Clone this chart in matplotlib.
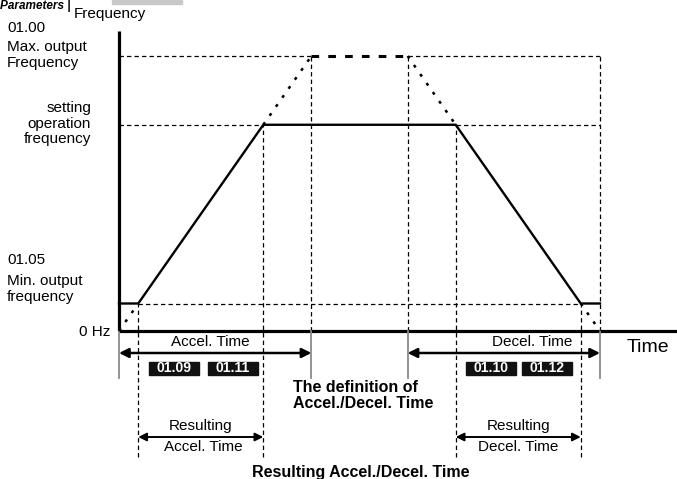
import matplotlib
matplotlib.use('Agg')
import matplotlib.pyplot as plt
from matplotlib.patches import Rectangle

plt.rcParams['font.family'] = ['Liberation Sans', 'DejaVu Sans']

# ---------------- data (time in s, frequency in Hz) ----------------
f_max, f_set, f_min = 60, 45, 6
t_start, t_min_acc, t_set_acc, t_max_acc = 0, 1, 7.5, 10
t_max_dec, t_set_dec, t_min_dec, t_end = 15, 17.5, 24, 25

# resulting (actual) run curve
run_t = [0, 1, 7.5, 17.5, 24, 25]
run_f = [6, 6, 45, 45, 6, 6]
# dotted definition ramps (to/from 0 Hz and max frequency)
acc_low_t, acc_low_f = [0, 1], [0, 6]
acc_high_t, acc_high_f = [7.5, 10], [45, 60]
dec_high_t, dec_high_f = [15, 17.5], [60, 45]
dec_low_t, dec_low_f = [24, 25], [6, 0]

param_acc = ['01.09', '01.11']
param_dec = ['01.10', '01.12']

# ---------------- figure ----------------
W, H = 677, 479
fig = plt.figure(figsize=(W / 100, H / 100), dpi=100)
ax = fig.add_axes([0, 0, 1, 1])
ax.axis('off')

X0, Y0 = 119, 331          # pixel location of origin
SX, SY = 19.24, 4.583      # pixels per second / per Hz
ax.set_xlim((0 - X0) / SX, (W - X0) / SX)
ax.set_ylim((Y0 - H) / SY, (Y0 - 0) / SY)


def fy(py):
    return (Y0 - py) / SY


def tx(px):
    return (px - X0) / SX


def P(x, y):
    return (x / W, 1 - y / H)


FT = fig.transFigure
dash = dict(color='black', lw=0.9, linestyle=(0, (3.5, 2.5)))
grey = dict(color='#8a8a8a', lw=1.3)

# axes
ax.plot([0, 0], [0, fy(31)], color='black', lw=2.3, solid_capstyle='butt')
ax.plot([0, tx(W)], [0, 0], color='black', lw=2.3, solid_capstyle='butt')

# guide lines (horizontal)
ax.plot([t_start, t_max_acc], [f_max, f_max], **dash)
ax.plot([t_max_acc, t_max_dec], [f_max, f_max], color='black', lw=2.2,
        linestyle=(0, (2.5, 3)))
ax.plot([t_max_dec, t_end], [f_max, f_max], **dash)
ax.plot([t_start, t_set_acc], [f_set, f_set], **dash)
ax.plot([t_set_dec, t_end], [f_set, f_set], **dash)
ax.plot([t_min_acc, t_min_dec], [f_min, f_min], **dash)

# guide lines (vertical)
for t in [t_max_acc, t_max_dec, t_end]:
    ax.plot([t, t], [0, f_max], **dash)
for t in [t_start, t_max_acc, t_max_dec, t_end]:
    ax.plot([t, t], [0, fy(378)], **grey)
for t in [t_min_acc, t_min_dec]:
    ax.plot([t, t], [fy(457), f_min], **dash)
for t in [t_set_acc, t_set_dec]:
    ax.plot([t, t], [fy(457), f_set], **dash)

# dotted definition ramps
dot = dict(color='black', lw=1.8, linestyle=(0, (1.2, 3.2)))
for xs, ys in [(acc_low_t, acc_low_f), (acc_high_t, acc_high_f),
               (dec_high_t, dec_high_f), (dec_low_t, dec_low_f)]:
    ax.plot(xs, ys, **dot)

# run curve
ax.plot(run_t, run_f, color='black', lw=1.7, solid_joinstyle='miter')

# arrows
def darrow(x1, x2, y, lw, ms):
    ax.annotate('', xy=(x2, y), xytext=(x1, y),
                arrowprops=dict(arrowstyle='<|-|>', color='black', lw=lw,
                                mutation_scale=ms, shrinkA=0, shrinkB=0))

darrow(t_start, t_max_acc, fy(353), 1.8, 14)
darrow(t_max_dec, t_end, fy(353), 1.8, 14)
darrow(t_min_acc, t_set_acc, fy(437), 1.4, 12)
darrow(t_set_dec, t_min_dec, fy(437), 1.4, 12)

# parameter boxes
for cx, lab in zip([174, 232.5], param_acc):
    fig.patches.append(Rectangle(P(cx - 25, 375), 50 / W, 13 / H,
                                 transform=FT, color='#111111'))
    fig.text(*P(cx, 368.5), lab, transform=FT, color='white', fontsize=10,
             fontweight='bold', ha='center', va='center')
for cx, lab in zip([491, 546.5], param_dec):
    fig.patches.append(Rectangle(P(cx - 25, 375), 50 / W, 13 / H,
                                 transform=FT, color='#111111'))
    fig.text(*P(cx, 368.5), lab, transform=FT, color='white', fontsize=10,
             fontweight='bold', ha='center', va='center')

# header
fig.text(*P(0, 9), 'Parameters |', transform=FT, fontsize=8.5,
         fontweight='bold', style='italic', ha='left', va='baseline')
fig.patches.append(Rectangle(P(112, 4), 70 / W, 4 / H, transform=FT,
                             color='#c8c8c8'))
fig.text(*P(110, 14), 'Frequency', transform=FT, fontsize=11,
         ha='center', va='center')

fs = 11
bfs = 11.5
# left labels
fig.text(*P(7, 28), '01.00', transform=FT, fontsize=fs, ha='left', va='center')
fig.text(*P(7, 47), 'Max. output', transform=FT, fontsize=fs, ha='left', va='center')
fig.text(*P(7, 63), 'Frequency', transform=FT, fontsize=fs, ha='left', va='center')
fig.text(*P(91, 108), 'setting', transform=FT, fontsize=fs, ha='right', va='center')
fig.text(*P(91, 124), 'operation', transform=FT, fontsize=fs, ha='right', va='center')
fig.text(*P(91, 139), 'frequency', transform=FT, fontsize=fs, ha='right', va='center')
fig.text(*P(7, 260), '01.05', transform=FT, fontsize=fs, ha='left', va='center')
fig.text(*P(7, 281), 'Min. output', transform=FT, fontsize=fs, ha='left', va='center')
fig.text(*P(7, 297), 'frequency', transform=FT, fontsize=fs, ha='left', va='center')
fig.text(*P(110, 332), '0 Hz', transform=FT, fontsize=fs, ha='right', va='center')

fig.text(*P(210, 342), 'Accel. Time', transform=FT, fontsize=fs, ha='center', va='center')
fig.text(*P(532, 342), 'Decel. Time', transform=FT, fontsize=fs, ha='center', va='center')
fig.text(*P(627, 347), 'Time', transform=FT, fontsize=14, ha='left', va='center')

fig.text(*P(293, 388), 'The definition of', transform=FT, fontsize=bfs,
         fontweight='bold', ha='left', va='center')
fig.text(*P(293, 404), 'Accel./Decel. Time', transform=FT, fontsize=bfs,
         fontweight='bold', ha='left', va='center')

fig.text(*P(201, 426), 'Resulting', transform=FT, fontsize=fs, ha='center', va='center')
fig.text(*P(203, 447), 'Accel. Time', transform=FT, fontsize=fs, ha='center', va='center')
fig.text(*P(519, 426), 'Resulting', transform=FT, fontsize=fs, ha='center', va='center')
fig.text(*P(518, 447), 'Decel. Time', transform=FT, fontsize=fs, ha='center', va='center')
fig.text(*P(361, 472), 'Resulting Accel./Decel. Time', transform=FT, fontsize=bfs,
         fontweight='bold', ha='center', va='center')

fig.savefig('out.png', dpi=100)
